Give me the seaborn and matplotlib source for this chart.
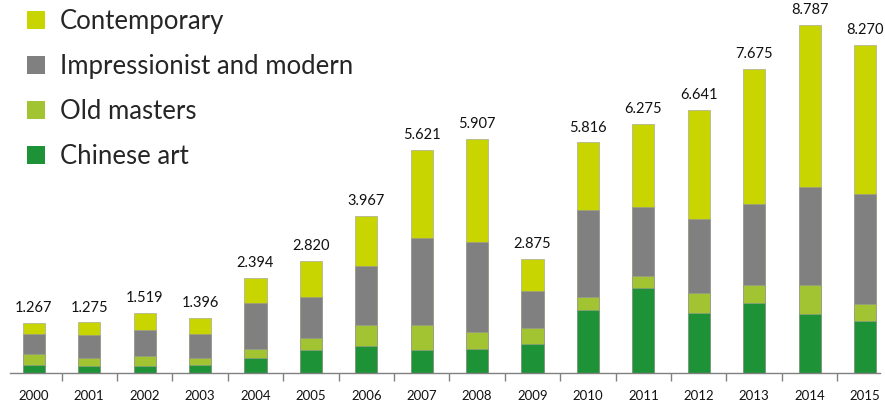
import numpy as np
import pandas as pd
import matplotlib
matplotlib.use("Agg")
import matplotlib.pyplot as plt
import seaborn as sns
from matplotlib.patches import Patch

years = ["2000", "2001", "2002", "2003", "2004", "2005", "2006", "2007",
         "2008", "2009", "2010", "2011", "2012", "2013", "2014", "2015"]
totals = [1.267, 1.275, 1.519, 1.396, 2.394, 2.820, 3.967, 5.621,
          5.907, 2.875, 5.816, 6.275, 6.641, 7.675, 8.787, 8.270]
chinese_art = [0.20, 0.17, 0.17, 0.19, 0.38, 0.57, 0.68, 0.59,
               0.61, 0.72, 1.58, 2.14, 1.52, 1.77, 1.48, 1.31]
old_masters = [0.28, 0.22, 0.25, 0.20, 0.23, 0.32, 0.52, 0.63,
               0.42, 0.41, 0.35, 0.32, 0.50, 0.44, 0.73, 0.42]
impressionist = [0.50, 0.56, 0.66, 0.59, 1.16, 1.04, 1.50, 2.18,
                 2.27, 0.94, 2.17, 1.73, 1.87, 2.06, 2.48, 2.78]
total_labels = ["1.267", "1.275", "1.519", "1.396", "2.394", "2.820", "3.967", "5.621",
                "5.907", "2.875", "5.816", "6.275", "6.641", "7.675", "8.787", "8.270"]
series_names = ["Contemporary", "Impressionist and modern", "Old masters", "Chinese art"]
colors = ["#C9D500", "#808080", "#A2C433", "#1E9236"]

sns.set_theme(style="white")
plt.rcParams['font.family'] = ['Lato', 'DejaVu Sans']

c1 = np.array(chinese_art)
c2 = c1 + np.array(old_masters)
c3 = c2 + np.array(impressionist)
c4 = np.array(totals)

df = pd.DataFrame({"year": years, "c1": c1, "c2": c2, "c3": c3, "c4": c4})

fig = plt.figure(figsize=(8.85, 4.03), dpi=100)
ax = fig.add_axes([0.0113, 0.0744, 0.983, 0.9256])

for col, color in zip(["c4", "c3", "c2", "c1"], colors):
    sns.barplot(data=df, x="year", y=col, color=color, width=0.4, ax=ax,
                edgecolor="#9a9a9a", linewidth=0.4, saturation=1)

for i, (t, lab) in enumerate(zip(totals, total_labels)):
    ax.text(i, t + 0.2, lab, ha="center", va="bottom", fontsize=10.5, color="#111111")

ax.set_ylim(0, 9.41)
ax.set_xlim(-0.43, 15.27)
ax.set_xlabel("")
ax.set_ylabel("")
ax.set_yticks([])
for s in ["top", "right", "left"]:
    ax.spines[s].set_visible(False)
ax.spines["bottom"].set_color("#808080")
ax.spines["bottom"].set_linewidth(1.0)

ax.set_xticks(np.arange(len(years)))
ax.set_xticklabels(years, fontsize=9.5, color="#111111")
ax.tick_params(axis="x", which="major", length=0, pad=12)
ax.set_xticks(np.arange(len(years) - 1) + 0.5, minor=True)
ax.tick_params(axis="x", which="minor", length=6, width=1, color="#808080", bottom=True)

handles = [Patch(facecolor=c, edgecolor="none") for c in colors]
leg = ax.legend(handles, series_names, loc="upper left", bbox_to_anchor=(0.02, 0.975),
                frameon=False, fontsize=18.5, handlelength=0.7, handleheight=0.7,
                handletextpad=0.55, labelspacing=0.78, borderaxespad=0, borderpad=0)

fig.savefig("out.png", dpi=100)
